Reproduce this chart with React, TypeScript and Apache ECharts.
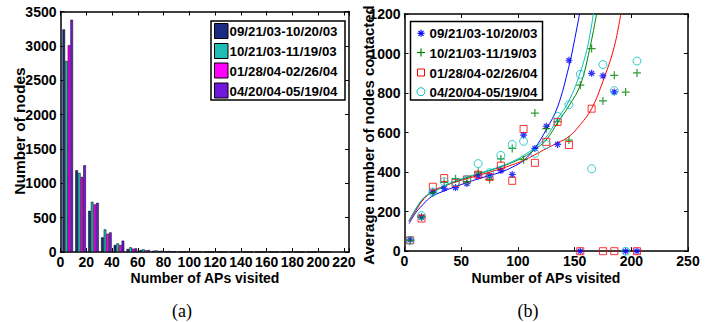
import React, { useEffect, useRef } from 'react';
import * as echarts from 'echarts';

// ---------- data ----------
const periods = ['09/21/03-10/20/03', '10/21/03-11/19/03', '01/28/04-02/26/04', '04/20/04-05/19/04'];

// (a) histogram: bin centres (number of APs visited) and node counts per period
const binCenters = [5.6, 15.6, 25.6, 35.6, 45.4, 55.4, 65.4, 75.4, 85.4, 95.4, 105.4, 115.4, 125.4, 135.4, 145.4, 155.4, 165.4, 175.4, 185.4, 195.4, 205.4];
const hist1 = [3240, 1190, 600, 213, 102, 44, 29, 19, 10, 5, 3, 2, 2, 1, 1, 1, 1, 1, 1, 1, 1];
const hist2 = [2780, 1151, 730, 329, 126, 68, 39, 24, 15, 6, 3, 2, 1, 1, 1, 1, 1, 1, 1, 1, 1];
const hist3 = [3010, 1093, 692, 265, 102, 49, 24, 15, 10, 5, 2, 2, 1, 1, 1, 1, 1, 1, 1, 1, 1];
const hist4 = [3380, 1263, 716, 285, 165, 53, 29, 19, 12, 8, 3, 2, 2, 1, 2, 1, 1, 2, 1, 2, 2];

// (b) scatter: APs visited vs average number of nodes contacted
const apX = [5, 15, 25, 35, 45, 55, 65, 75, 85, 95, 105, 115, 125, 135, 145, 155, 165, 175, 185, 195, 205];
const avg1 = [58, 172, 300, 318, 322, 342, 381, 380, 408, 388, 587, 520, 632, 540, 966, 0, 900, 887, 806, 0, 0];
const avg2 = [55, 172, 296, 348, 367, 352, 400, 363, 467, 520, 463, 699, 620, 655, 562, 840, 1025, 760, 890, 805, 902];
const avg3 = [55, 165, 326, 370, 346, 363, 387, 375, 433, 356, 618, 447, 553, 654, 537, 0, 721, 0, 0, null, 0];
const avg4 = [55, 180, 300, 352, 350, 362, 443, 397, 485, 540, 556, 495, 540, 682, 741, 895, 417, 944, 812, 0, 962];

// (b) fitted curves
const fit1X = [4, 10, 15, 20, 25, 35, 45, 55, 65, 75, 85, 95, 105, 115, 125, 135, 145, 150, 155];
const fit1Y = [140, 195, 228, 258, 280, 305, 327, 347, 366, 383, 400, 425, 459, 522, 615, 730, 935, 1070, 1220];
const fit2X = [4, 10, 15, 20, 25, 35, 45, 55, 65, 75, 85, 95, 105, 115, 125, 135, 145, 155, 163, 170];
const fit2Y = [155, 212, 255, 283, 298, 328, 353, 372, 390, 408, 427, 449, 476, 514, 563, 650, 735, 840, 1015, 1220];
const fit3X = [4, 10, 15, 20, 25, 35, 45, 55, 65, 75, 85, 95, 105, 115, 125, 135, 145, 155, 165, 175, 185, 191];
const fit3Y = [150, 205, 250, 282, 305, 330, 350, 367, 383, 400, 417, 437, 459, 488, 519, 548, 580, 640, 721, 860, 1035, 1210];
const fit4X = [4, 10, 15, 20, 25, 35, 45, 55, 65, 75, 85, 95, 105, 115, 125, 135, 145, 155, 162, 167];
const fit4Y = [155, 215, 258, 285, 300, 330, 355, 375, 392, 410, 430, 453, 485, 524, 578, 670, 760, 905, 1050, 1220];

const histTicks = { min: 0, max: 224, interval: 20 };
const histY = { min: 0, max: 3500, interval: 500 };
const scatX = { min: 0, max: 250, interval: 50 };
const scatY = { min: 0, max: 1200, interval: 200 };

// ---------- styles ----------
const barColors = ['#1b2a82', '#1fbdb3', '#ff00ff', '#7316dc'];
const lineColors = ['#0000ff', '#008000', '#ff0000', '#00bfbf'];
const SANS = '"Liberation Sans", Arial, sans-serif';
const SERIF = '"Liberation Serif", "Times New Roman", serif';

const zip = (xs: number[], ys: (number | null)[]) =>
  xs.map((x, i) => [x, ys[i]]).filter((p) => p[1] !== null);

function axisBase(grid: number, position: string, ext: any, showLabel: boolean, fontSize: number, vertical: boolean) {
  return {
    type: 'value',
    gridIndex: grid,
    position,
    min: ext.min,
    max: ext.max,
    interval: ext.interval,
    axisLine: { show: true, onZero: false, lineStyle: { color: '#000', width: 1.5 } },
    axisTick: { show: true, inside: true, length: 4, lineStyle: { color: '#000', width: 1 } },
    splitLine: { show: false },
    axisLabel: {
      show: showLabel,
      interval: 0,
      color: '#000',
      fontFamily: SANS,
      fontWeight: 'bold',
      fontSize,
      margin: vertical ? 4 : 3,
      formatter: (v: number) => (Math.abs(v % ext.interval) < 1e-9 ? String(v) : ''),
    },
  };
}

const STAR = 'path://M0 5L10 5M5 0L5 10M1.5 1.5L8.5 8.5M8.5 1.5L1.5 8.5';
const PLUS = 'path://M0 5L10 5M5 0L5 10';

function text(t: string, x: number, y: number, font: string, align = 'left', rotation = 0) {
  return {
    type: 'text',
    x,
    y,
    rotation,
    style: {
      text: t,
      font,
      fill: '#000',
      align,
      textAlign: align,
      verticalAlign: 'middle',
      textVerticalAlign: 'middle',
    },
  };
}

function legendA() {
  const els: any[] = [
    { type: 'rect', shape: { x: 211, y: 21, width: 134, height: 79 }, style: { fill: '#fff', stroke: '#000', lineWidth: 1.5 } },
  ];
  const rows = [31, 51, 70.5, 90.5];
  periods.forEach((p, i) => {
    els.push({ type: 'rect', shape: { x: 214.5, y: rows[i] - 7.5, width: 13.5, height: 15 }, style: { fill: barColors[i], stroke: '#000', lineWidth: 1 } });
    els.push(text(p, 229.5, rows[i] + 0.5, `bold 13.3px ${SANS}`));
  });
  return els;
}

function legendB() {
  const els: any[] = [
    { type: 'rect', shape: { x: 410.5, y: 21.5, width: 132, height: 78.5 }, style: { fill: '#fff', stroke: '#000', lineWidth: 1.5 } },
  ];
  const rows = [33.3, 52.5, 72.5, 91.7];
  const cx = 421;
  // star
  const r = 3.5, d = 2.5;
  [[cx - r, rows[0], cx + r, rows[0]], [cx, rows[0] - r, cx, rows[0] + r], [cx - d, rows[0] - d, cx + d, rows[0] + d], [cx + d, rows[0] - d, cx - d, rows[0] + d]].forEach((s) =>
    els.push({ type: 'line', shape: { x1: s[0], y1: s[1], x2: s[2], y2: s[3] }, style: { stroke: lineColors[0], lineWidth: 1.2 } })
  );
  // plus
  [[cx - 4, rows[1], cx + 4, rows[1]], [cx, rows[1] - 4, cx, rows[1] + 4]].forEach((s) =>
    els.push({ type: 'line', shape: { x1: s[0], y1: s[1], x2: s[2], y2: s[3] }, style: { stroke: lineColors[1], lineWidth: 1.2 } })
  );
  els.push({ type: 'rect', shape: { x: cx - 3.5, y: rows[2] - 3.5, width: 7, height: 7 }, style: { fill: 'none', stroke: lineColors[2], lineWidth: 1 } });
  els.push({ type: 'circle', shape: { cx, cy: rows[3], r: 4 }, style: { fill: 'none', stroke: lineColors[3], lineWidth: 1 } });
  periods.forEach((p, i) => els.push(text(p, 429.5, rows[i] + 0.5, `bold 13.3px ${SANS}`)));
  return els;
}

export default function App() {
  const ref = useRef<HTMLDivElement>(null);
  useEffect(() => {
    if (!ref.current) return;
    const chart = echarts.init(ref.current, undefined, { renderer: 'svg' });
    const hists = [hist1, hist2, hist3, hist4];
    const avgs = [avg1, avg2, avg3, avg4];
    const fits = [
      [fit1X, fit1Y],
      [fit2X, fit2Y],
      [fit3X, fit3Y],
      [fit4X, fit4Y],
    ];
    const symbols = [STAR, PLUS, 'rect', 'circle'];
    const symSizes = [7, 8, 7, 8];

    const series: any[] = [];
    hists.forEach((h, i) => {
      series.push({
        type: 'bar',
        name: periods[i],
        xAxisIndex: 0,
        yAxisIndex: 0,
        data: zip(binCenters, h),
        barWidth: 2.65,
        barGap: '0%',
        itemStyle: { color: barColors[i], borderColor: '#000', borderWidth: 0.5 },
      });
    });
    avgs.forEach((a, i) => {
      series.push({
        type: 'scatter',
        name: periods[i] + ' ',
        xAxisIndex: 2,
        yAxisIndex: 2,
        data: zip(apX, a),
        symbol: symbols[i],
        symbolSize: symSizes[i],
        itemStyle: { color: 'rgba(0,0,0,0)', borderColor: lineColors[i], borderWidth: i < 2 ? 1.2 : 1 },
        z: 3,
      });
    });
    fits.forEach((f, i) => {
      series.push({
        type: 'line',
        name: 'fit ' + periods[i],
        xAxisIndex: 2,
        yAxisIndex: 2,
        data: zip(f[0] as number[], f[1] as number[]),
        smooth: 0.4,
        showSymbol: false,
        clip: true,
        lineStyle: { color: lineColors[i], width: 1 },
        z: 2,
      });
    });

    chart.setOption({
      animation: false,
      backgroundColor: '#fff',
      grid: [
        { left: 60.5, top: 11.5, width: 288.5, height: 240.5 },
        { left: 404.5, top: 14, width: 283.5, height: 237.2 },
      ],
      xAxis: [
        axisBase(0, 'bottom', histTicks, true, 14, false),
        axisBase(0, 'top', histTicks, false, 14, false),
        axisBase(1, 'bottom', scatX, true, 14, false),
        axisBase(1, 'top', scatX, false, 14, false),
      ],
      yAxis: [
        axisBase(0, 'left', histY, true, 14, true),
        axisBase(0, 'right', histY, false, 14, true),
        axisBase(1, 'left', scatY, true, 14, true),
        axisBase(1, 'right', scatY, false, 14, true),
      ],
      series,
      graphic: [
        ...legendA(),
        ...legendB(),
        text('Number of APs visited', 205, 278, `bold 14px ${SANS}`, 'center'),
        text('Number of nodes', 19, 131, `bold 15.5px ${SANS}`, 'center', Math.PI / 2),
        text('Number of APs visited', 546, 278, `bold 14px ${SANS}`, 'center'),
        text('Average number of nodes contacted', 368, 135, `bold 15px ${SANS}`, 'center', Math.PI / 2),
        text('(a)', 182, 311, `18px ${SERIF}`, 'center'),
        text('(b)', 528, 311, `18px ${SERIF}`, 'center'),
      ],
    });
    return () => chart.dispose();
  }, []);
  return <div ref={ref} style={{ position: 'fixed', left: 0, top: 0, width: 725, height: 322 }} />;
}
